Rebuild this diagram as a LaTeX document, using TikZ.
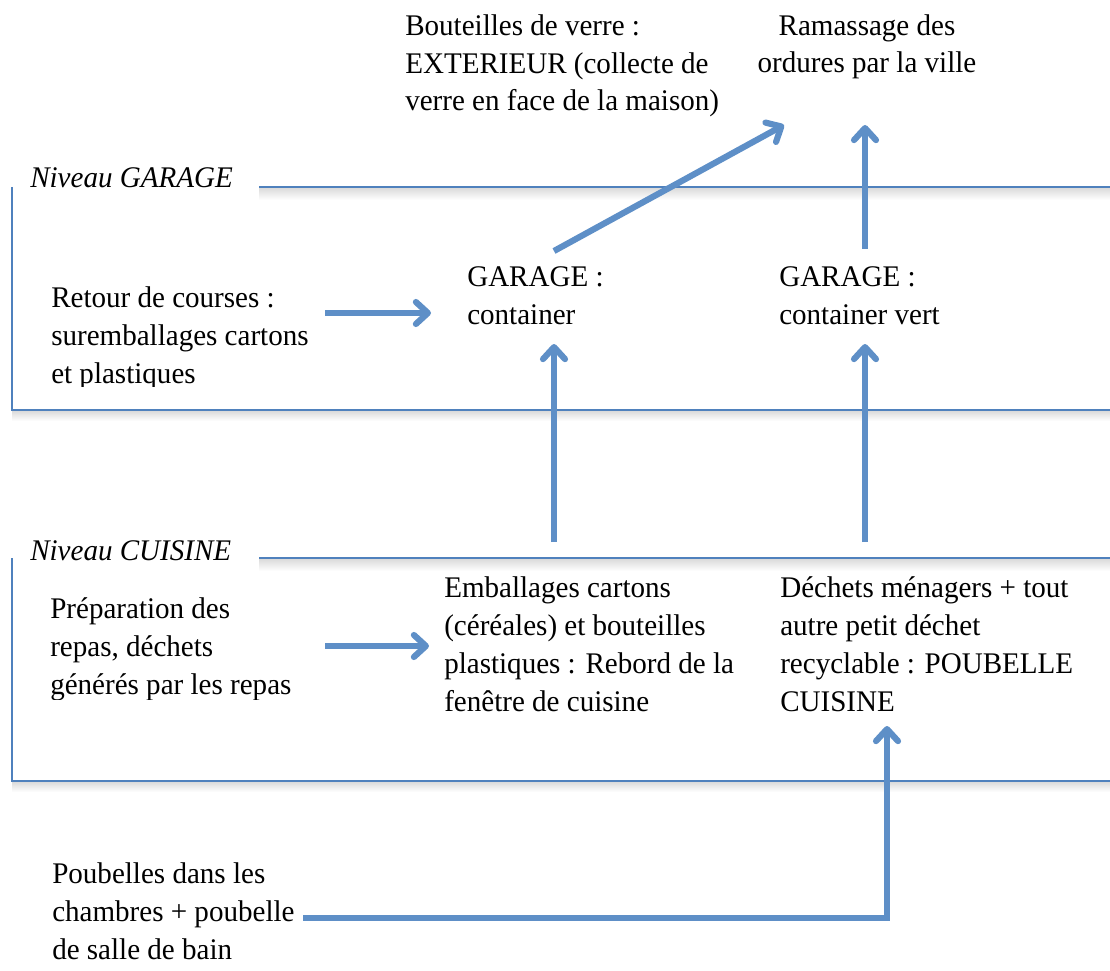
\documentclass[tikz,border=0pt]{standalone}
\usepackage{fontspec}
\setmainfont{Liberation Serif}[FakeStretch=0.97]
\usepackage{xcolor}
\usetikzlibrary{arrows.meta, positioning, calc}
\definecolor{frameblue}{RGB}{79,129,189}
\definecolor{arrowblue}{RGB}{94,143,199}

\begin{document}
\begin{tikzpicture}[x=0.025cm, y=-0.025cm,
  txt/.style={anchor=base west, align=left, inner sep=0pt, font=\fontsize{21.3pt}{27pt}\selectfont},
  level/.style={txt, font=\fontsize{21.3pt}{27pt}\selectfont\itshape},
  frame/.style={draw=frameblue, line width=1.1pt},
  arrow/.style={-{Straight Barb[length=0.3cm, width=0.55cm, round]}, draw=arrowblue, line width=4.4pt}]
  \useasboundingbox (0,0) rectangle (1110,971);
  % Frames
  \shade[top color=black!14, bottom color=white] (259,188) rectangle (1112,200);
  \shade[top color=black!14, bottom color=white] (12,411) rectangle (1112,421);
  \shade[top color=black!14, bottom color=white] (259,559) rectangle (1112,571);
  \shade[top color=black!14, bottom color=white] (12,782) rectangle (1112,792);
  \draw[frame] (259,187) -- (1112,187);
  \draw[frame] (12,187) -- (12,410) -- (1112,410);
  \draw[frame] (259,558) -- (1112,558);
  \draw[frame] (12,558) -- (12,781) -- (1112,781);
  % Exterieur (base = last line)
  \node[txt] (verre) at (405,111) {Bouteilles de verre :\\EXTERIEUR (collecte de\\verre en face de la maison)};
  \node[txt, align=center, anchor=base] (ramassage) at (867,73) {Ramassage des\\ordures par la ville};
  % Garage
  \node[level] (nivgarage) at (30,188) {Niveau GARAGE};
  \begin{scope}
    \clip (30,250) rectangle (330,386);
    \node[txt] (courses) at (51,383) {Retour de courses :\\suremballages cartons\\et plastiques};
  \end{scope}
  \node[txt] (container) at (467,324) {GARAGE :\\container};
  \node[txt] (contvert) at (779,324) {GARAGE :\\container vert};
  % Cuisine
  \node[level] (nivcuisine) at (30,560) {Niveau CUISINE};
  \begin{scope}
    \clip (30,580) rectangle (330,699);
    \node[txt] (repas) at (50,694) {Préparation des\\repas, déchets\\générés par les repas};
  \end{scope}
  \node[txt] (rebord) at (444,711) {Emballages cartons\\(céréales) et bouteilles\\plastiques : Rebord de la\\fenêtre de cuisine};
  \node[txt] (poubcuisine) at (780,711) {Déchets ménagers + tout\\autre petit déchet\\recyclable : POUBELLE\\CUISINE};
  % Chambres
  \node[txt] (chambres) at (52,959) {Poubelles dans les\\chambres + poubelle\\de salle de bain};
  % Arrow ends
  \coordinate (coursesOut) at (325,313);
  \coordinate (containerIn) at (431,313);
  \coordinate (containerOut) at (554,251);
  \coordinate (ramassageIn) at (784,125);
  \coordinate (contvertOut) at (865,249);
  \coordinate (ramassageIn2) at (865,125);
  \coordinate (repasOut) at (325,646);
  \coordinate (rebordIn) at (429,646);
  \coordinate (rebordOut) at (554,542);
  \coordinate (containerIn2) at (554,344);
  \coordinate (poubOut) at (865,542);
  \coordinate (contvertIn) at (865,344);
  \coordinate (chambresOut) at (303,918);
  \coordinate (poubIn) at (887,726);
  % Arrows
  \draw[arrow] (coursesOut) -- (containerIn);
  \draw[arrow] (containerOut) -- (ramassageIn);
  \draw[arrow] (contvertOut) -- (ramassageIn2);
  \draw[arrow] (repasOut) -- (rebordIn);
  \draw[arrow] (rebordOut) -- (containerIn2);
  \draw[arrow] (poubOut) -- (contvertIn);
  \draw[arrow] (chambresOut) -| (poubIn);
\end{tikzpicture}
\end{document}
